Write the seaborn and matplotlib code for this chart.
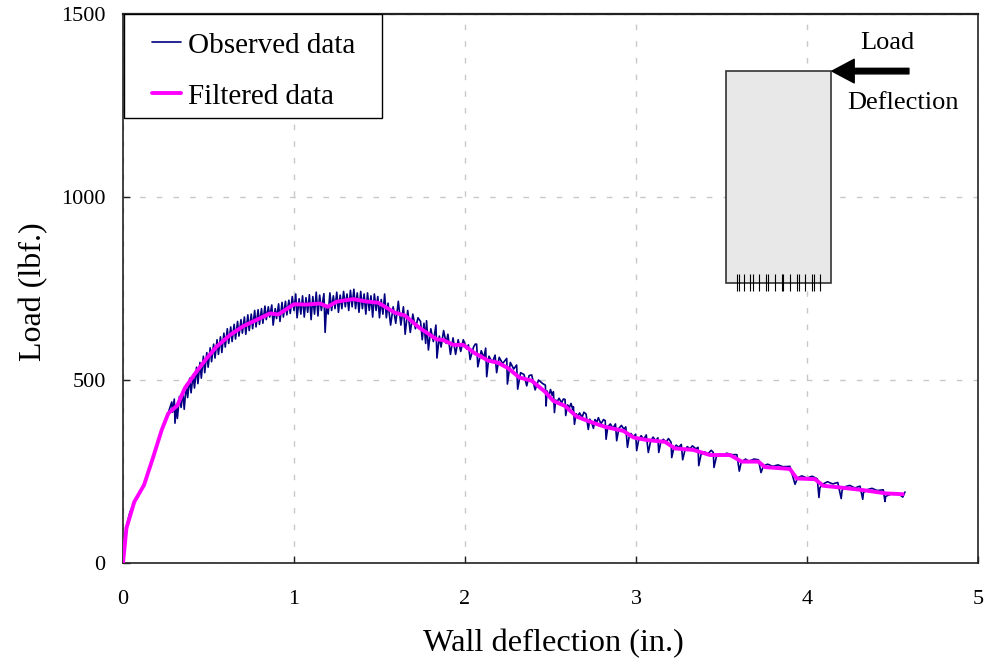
import seaborn as sns
import matplotlib
matplotlib.use('Agg')
import matplotlib.pyplot as plt
import pandas as pd
from matplotlib.patches import Rectangle

# Filtered curve
filtered_x = [0, .02, .066, .123, .177, .226, .265, .317, .362, .43, .489, .547, .626, .703, .78, .86, .908, 1.0,
              1.07, 1.152, 1.197, 1.249, 1.347, 1.415, 1.493, 1.59, 1.649, 1.735, 1.834, 1.873, 1.932, 1.99, 2.058,
              2.136, 2.194, 2.253, 2.317, 2.39, 2.468, 2.516, 2.585, 2.653, 2.731, 2.819, 2.926, 2.985, 3.063, 3.17,
              3.228, 3.335, 3.433, 3.55, 3.618, 3.716, 3.754, 3.9, 3.94, 4.047, 4.095, 4.2, 4.33, 4.465, 4.56]
filtered_y = [0, 95, 167, 213, 290, 363, 409, 430, 478, 523, 559, 591, 623, 647, 664, 682, 679, 707,
              706, 709, 700, 714, 721, 715, 711, 684, 676, 642, 611, 609, 596, 596, 573,
              553, 547, 532, 507, 498, 468, 443, 429, 400, 386, 372, 361, 343, 336, 331,
              313, 309, 295, 295, 277, 277, 262, 257, 231, 229, 211, 206, 199, 190, 188]

# Observed trace up to about 2.47 in., estimated tooth by tooth
observed_x = [0, .01, .02, .03, .04, .055, .07, .09, .12, .177, .226, .265, .27, .285, .29, .30, .304, .312, .318, .33,
              .34, .35, .358, .37, .378, .39, .398, .41, .418, .43, .438, .45, .458, .47, .478, .49, .498, .51, .518, .53,
              .538, .55, .558, .57, .578, .59, .598, .61, .618, .63, .638, .65, .658, .67, .678, .69, .698, .71, .718, .73,
              .738, .75, .758, .77, .778, .79, .798, .81, .818, .83, .838, .85, .858, .87, .878, .89, .898, .91, .918, .93,
              .938, .95, .958, .97, .978, .99, 1.0, 1.01, 1.018, 1.03, 1.04, 1.05, 1.06, 1.07, 1.08, 1.09, 1.10, 1.11, 1.12, 1.13,
              1.14, 1.15, 1.16, 1.175, 1.182, 1.19, 1.2, 1.21, 1.22, 1.23, 1.24, 1.25, 1.26, 1.27, 1.28, 1.29, 1.30, 1.31, 1.32, 1.33,
              1.34, 1.35, 1.36, 1.37, 1.38, 1.39, 1.40, 1.41, 1.42, 1.43, 1.44, 1.45, 1.46, 1.47, 1.48, 1.49, 1.50, 1.51, 1.52, 1.53,
              1.54, 1.55, 1.565, 1.58, 1.595, 1.61, 1.625, 1.64, 1.65, 1.665, 1.68, 1.695, 1.71, 1.725, 1.74, 1.75, 1.76, 1.77, 1.775, 1.786,
              1.80, 1.815, 1.83, 1.836, 1.85, 1.86, 1.875, 1.89, 1.90, 1.915, 1.93, 1.945, 1.96, 1.975, 1.99, 2.01, 2.02, 2.03, 2.05, 2.06,
              2.068, 2.075, 2.095, 2.11, 2.121, 2.127, 2.14, 2.16, 2.176, 2.185, 2.2, 2.22, 2.244, 2.248, 2.265, 2.285, 2.302, 2.308, 2.325, 2.345,
              2.361, 2.375, 2.39, 2.41, 2.43, 2.455, 2.47]
observed_y = [0, 60, 100, 120, 138, 155, 172, 187, 212, 290, 363, 409, 418, 440, 412, 448, 382, 432, 395, 455,
              425, 470, 420, 488, 452, 505, 465, 515, 478, 535, 490, 548, 505, 565, 520, 575, 535, 588, 550, 598,
              560, 610, 570, 618, 575, 628, 590, 640, 600, 645, 605, 652, 612, 660, 620, 665, 628, 672, 625, 678,
              635, 680, 640, 690, 645, 692, 652, 695, 655, 702, 665, 700, 672, 705, 650, 695, 668, 708, 660, 712,
              672, 715, 678, 718, 682, 728, 690, 735, 670, 722, 680, 730, 672, 725, 685, 733, 665, 728, 680, 740,
              675, 732, 690, 736, 630, 700, 680, 738, 690, 730, 695, 740, 685, 732, 695, 742, 700, 735, 690, 745,
              700, 748, 695, 738, 685, 742, 695, 735, 680, 738, 690, 730, 672, 735, 690, 728, 670, 720, 680, 735,
              670, 710, 650, 700, 655, 715, 650, 700, 625, 690, 630, 680, 640, 670, 660, 610, 655, 600, 662, 582,
              640, 605, 650, 560, 620, 590, 635, 600, 625, 570, 615, 570, 610, 578, 610, 585, 596, 556, 590, 598,
              598, 536, 580, 560, 587, 509, 565, 548, 568, 520, 562, 545, 559, 489, 548, 530, 541, 475, 520, 515,
              484, 512, 514, 473, 500, 490, 486]

# Later part: plateaus broken by sharp dips
late_x = [2.474, 2.48, 2.49, 2.50, 2.51, 2.517, 2.523, 2.53, 2.54, 2.55, 2.565, 2.575, 2.585, 2.589, 2.6, 2.61, 2.62, 2.63, 2.634, 2.64,
          2.65, 2.66, 2.67, 2.685, 2.695, 2.708, 2.721, 2.73, 2.74, 2.751, 2.76, 2.77, 2.78, 2.795, 2.81, 2.82, 2.825, 2.835, 2.85, 2.865,
          2.88, 2.887, 2.9, 2.915, 2.93, 2.94, 2.95, 2.96, 2.97, 2.985, 2.998, 3.004, 3.015, 3.03, 3.045, 3.06, 3.072, 3.085, 3.1, 3.115,
          3.128, 3.133, 3.145, 3.16, 3.175, 3.19, 3.205, 3.209, 3.22, 3.235, 3.25, 3.265, 3.273, 3.285, 3.30, 3.315, 3.33, 3.35, 3.363, 3.367,
          3.38, 3.40, 3.42, 3.44, 3.452, 3.456, 3.47, 3.49, 3.51, 3.53, 3.56, 3.59, 3.604, 3.615, 3.64, 3.66, 3.69, 3.716, 3.731, 3.745,
          3.77, 3.80, 3.83, 3.86, 3.9, 3.93, 3.945, 3.97, 4.0, 4.03, 4.06, 4.07, 4.075, 4.09, 4.12, 4.15, 4.18, 4.2, 4.205, 4.22,
          4.25, 4.28, 4.31, 4.326, 4.33, 4.35, 4.38, 4.41, 4.446, 4.456, 4.46, 4.49, 4.52, 4.55, 4.56, 4.573]
late_y = [429, 470, 455, 474, 458, 468, 411, 445, 442, 450, 438, 448, 447, 403, 432, 424, 436, 420, 427, 379,
          408, 400, 410, 398, 412, 407, 365, 393, 385, 368, 392, 384, 397, 380, 392, 389, 338, 372, 380, 368,
          380, 334, 368, 376, 365, 372, 316, 345, 354, 345, 352, 307, 335, 348, 338, 350, 302, 332, 344, 334,
          342, 302, 330, 338, 330, 340, 330, 288, 312, 322, 316, 324, 282, 306, 318, 312, 320, 312, 316, 266,
          296, 304, 298, 308, 302, 261, 290, 298, 294, 300, 296, 296, 251, 275, 284, 278, 284, 282, 247, 265,
          270, 264, 268, 263, 264, 215, 233, 238, 232, 237, 230, 179, 205, 215, 222, 216, 220, 176, 198, 208,
          212, 205, 210, 174, 192, 200, 204, 198, 200, 168, 182, 188, 192, 184, 180, 194]

x_ticks = [0, 1, 2, 3, 4, 5]
y_ticks = [0, 500, 1000, 1500]
wall_ticks = [3.588, 3.604, 3.631, 3.667, 3.682, 3.721, 3.760, 3.773, 3.813, 3.852, 3.861, 3.901, 3.94, 3.953, 3.988,
              4.03, 4.043, 4.076]

sns.set_theme(style='white')
plt.rcParams['font.family'] = ['Liberation Serif', 'DejaVu Serif']

obs_df = pd.DataFrame({'x': observed_x + late_x, 'y': observed_y + late_y})
fil_df = pd.DataFrame({'x': filtered_x, 'y': filtered_y})

fig = plt.figure(figsize=(9.87, 6.62), dpi=100)
ax = fig.add_axes([123 / 987, 1 - 563 / 662, 855 / 987, 549 / 662])

sns.lineplot(x='x', y='y', data=obs_df, ax=ax, color='#000080', lw=1.2, estimator=None, sort=False,
             label='Observed data', zorder=3)
sns.lineplot(x='x', y='y', data=fil_df, ax=ax, color='#ff00ff', lw=2.8, estimator=None, sort=False,
             label='Filtered data', zorder=4)

ax.set_xlim(0, 5)
ax.set_ylim(0, 1500)
ax.set_xticks(x_ticks)
ax.set_yticks(y_ticks)
ax.grid(True, color='#c8c8c8', lw=1, ls=(0, (4, 8)))
ax.set_axisbelow(True)
ax.tick_params(axis='both', direction='in', length=5, width=1, color='#222222', labelsize=16,
               left=True, bottom=True, labelcolor='black')
ax.tick_params(axis='x', pad=19.5)
ax.tick_params(axis='y', pad=12.5)
for side in ax.spines:
    ax.spines[side].set_color('#222222')
    ax.spines[side].set_linewidth(1.2)
ax.spines['top'].set_linewidth(1.6)

ax.set_xlabel('Wall deflection (in.)', fontsize=23.3, color='black', labelpad=14, x=0.5035)
ax.set_ylabel('Load (lbf.)', fontsize=23, color='black', labelpad=9.5, y=0.4936)

# wall sketch in the corner
ax.add_patch(Rectangle((3.526, 765), 0.614, 579, fc='#e8e8e8', ec='#333333', lw=1.2, zorder=2))
ax.vlines(wall_ticks, 743, 790, color='black', lw=0.8, zorder=2.5)
ax.annotate('', xy=(4.146, 1344), xytext=(4.596, 1344),
            arrowprops=dict(facecolor='black', edgecolor='black', width=4, headwidth=17, headlength=16, shrink=0))
ax.text(4.47, 1422, 'Load', fontsize=19, color='black', ha='center', va='center')
ax.text(4.56, 1256, 'Deflection', fontsize=19, color='black', ha='center', va='center')

# legend box drawn by hand, its padding is wider than it is tall
ax.add_patch(Rectangle((0.001, 0.8106), 0.302, 0.1894, transform=ax.transAxes, fc='white', ec='black', lw=1, zorder=5))
leg = ax.legend(loc='upper left', bbox_to_anchor=(0.034, 0.9667), borderaxespad=0, borderpad=0, frameon=False,
                fontsize=21, handlelength=0.98, handletextpad=0.25, labelspacing=0.84, labelcolor='black')
leg.set_zorder(6)

fig.savefig('out.png', dpi=100)
